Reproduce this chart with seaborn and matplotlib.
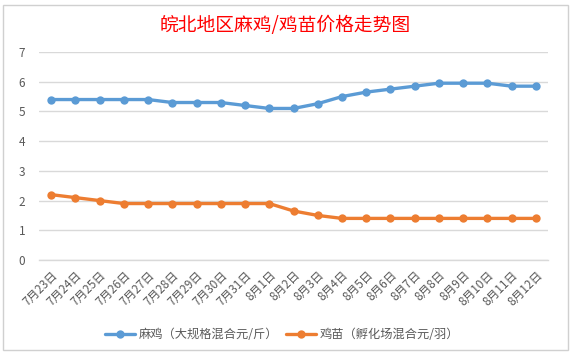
import numpy as np
import pandas as pd
import matplotlib
matplotlib.use('Agg')
import matplotlib.pyplot as plt
import seaborn as sns
from matplotlib.lines import Line2D
from matplotlib.patches import Rectangle

dates = ['7月23日', '7月24日', '7月25日', '7月26日', '7月27日', '7月28日', '7月29日',
         '7月30日', '7月31日', '8月1日', '8月2日', '8月3日', '8月4日', '8月5日',
         '8月6日', '8月7日', '8月8日', '8月9日', '8月10日', '8月11日', '8月12日']
maji = [5.4, 5.4, 5.4, 5.4, 5.4, 5.3, 5.3, 5.3, 5.2, 5.1, 5.1,
        5.26, 5.5, 5.65, 5.75, 5.85, 5.95, 5.95, 5.95, 5.85, 5.85]
jimiao = [2.2, 2.1, 2.0, 1.9, 1.9, 1.9, 1.9, 1.9, 1.9, 1.9, 1.65,
          1.5, 1.4, 1.4, 1.4, 1.4, 1.4, 1.4, 1.4, 1.4, 1.4]
series_names = ['麻鸡（大规格混合元/斤）', '鸡苗（孵化场混合元/羽）']
colors = ['#5B9BD5', '#ED7D31']

sns.set_theme(style='white')
plt.rcParams['font.family'] = ['Noto Sans CJK SC', 'DejaVu Sans']

df = pd.DataFrame({'date': dates, 'pos': np.arange(len(dates)),
                   series_names[0]: maji, series_names[1]: jimiao})
long_df = df.melt(id_vars=['date', 'pos'], var_name='series', value_name='price')

fig = plt.figure(figsize=(5.71, 3.53), dpi=100)
# chart border like an Excel chart area
fig.patches.append(Rectangle((3 / 571, 3 / 353), 565 / 571, 345 / 353,
                             transform=fig.transFigure, fill=False,
                             edgecolor='#D0D0D0', linewidth=1))
ax = fig.add_axes([39 / 571, 93 / 353, 509 / 571, 208 / 353])

sns.lineplot(data=long_df, x='pos', y='price', hue='series', palette=colors,
             marker='o', markersize=6, markeredgewidth=0, linewidth=2.4,
             sort=False, legend=False, ax=ax)

ax.set_xlim(-0.5, len(dates) - 0.5)
ax.set_ylim(0, 7)
ax.set_yticks(range(0, 8))
ax.grid(axis='y', color='#D9D9D9', linewidth=1)
ax.set_axisbelow(True)
for s in ['top', 'right', 'left']:
    ax.spines[s].set_visible(False)
ax.spines['bottom'].set_color('#D9D9D9')
ax.spines['bottom'].set_linewidth(1)

ax.set_xticks(np.arange(len(dates)))
ax.set_xticklabels(dates, rotation=45, ha='right', va='top',
                   rotation_mode='anchor', fontsize=8.5, color='#595959')
ax.set_xticks(np.arange(-0.5, len(dates), 1), minor=True)
ax.tick_params(axis='x', which='major', length=0, pad=6)
ax.tick_params(axis='x', which='minor', length=4, color='#D9D9D9', width=1)
ax.tick_params(axis='y', length=0, labelsize=8.5, labelcolor='#595959', pad=10)
ax.set_xlabel('')
ax.set_ylabel('')

fig.text(285 / 571, 1 - 25 / 353, '皖北地区麻鸡/鸡苗价格走势图', ha='center', va='center',
         fontsize=13.5, color='#FF0000', fontweight='medium')

handles = [Line2D([0], [0], color=c, marker='o', markersize=6, linewidth=2.4,
                  markeredgewidth=0) for c in colors]
fig.legend(handles, series_names, loc='center', bbox_to_anchor=(282 / 571, 1 - 335 / 353),
           ncol=2, frameon=False, fontsize=8.8, labelcolor='#595959',
           handlelength=2.5, columnspacing=0.6, handletextpad=0.3)

fig.savefig('out.png', dpi=100)
